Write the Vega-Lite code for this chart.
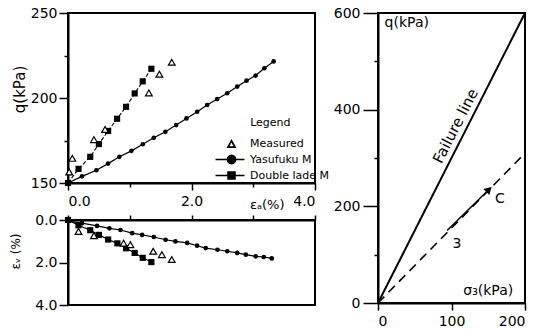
{
  "$schema": "https://vega.github.io/schema/vega-lite/v6.json",
  "padding": {"left": 8, "top": 5, "right": 0, "bottom": 0},
  "background": "white",
  "config": {
    "view": {"stroke": "black", "strokeWidth": 2},
    "axis": {
      "grid": false, "domainColor": "black", "domainWidth": 2, "tickColor": "black", "tickWidth": 1.5,
      "labelFont": "DejaVu Sans", "labelFontSize": 14, "labelColor": "black",
      "titleFont": "DejaVu Sans", "titleFontWeight": "normal", "titleColor": "black"
    },
    "text": {"font": "DejaVu Sans", "color": "black"}
  },
  "datasets": {
    "top": [
      {"model": "Yasufuku M", "ea": 0, "q": 150},
      {"model": "Yasufuku M", "ea": 0.227, "q": 153.9},
      {"model": "Yasufuku M", "ea": 0.459, "q": 157.5},
      {"model": "Yasufuku M", "ea": 0.649, "q": 161.4},
      {"model": "Yasufuku M", "ea": 0.832, "q": 165.4},
      {"model": "Yasufuku M", "ea": 1.027, "q": 168.9},
      {"model": "Yasufuku M", "ea": 1.211, "q": 172.8},
      {"model": "Yasufuku M", "ea": 1.389, "q": 176.6},
      {"model": "Yasufuku M", "ea": 1.578, "q": 180.1},
      {"model": "Yasufuku M", "ea": 1.751, "q": 184.1},
      {"model": "Yasufuku M", "ea": 1.919, "q": 188.0},
      {"model": "Yasufuku M", "ea": 2.092, "q": 191.9},
      {"model": "Yasufuku M", "ea": 2.254, "q": 195.9},
      {"model": "Yasufuku M", "ea": 2.416, "q": 199.4},
      {"model": "Yasufuku M", "ea": 2.578, "q": 202.8},
      {"model": "Yasufuku M", "ea": 2.741, "q": 206.7},
      {"model": "Yasufuku M", "ea": 2.892, "q": 210.2},
      {"model": "Yasufuku M", "ea": 3.038, "q": 213.2},
      {"model": "Yasufuku M", "ea": 3.18, "q": 217.5},
      {"model": "Yasufuku M", "ea": 3.33, "q": 221.5},
      {"model": "Double lade M", "ea": 0, "q": 150},
      {"model": "Double lade M", "ea": 0.17, "q": 158.3},
      {"model": "Double lade M", "ea": 0.36, "q": 165.4},
      {"model": "Double lade M", "ea": 0.5, "q": 172.9},
      {"model": "Double lade M", "ea": 0.65, "q": 180.6},
      {"model": "Double lade M", "ea": 0.795, "q": 187.8},
      {"model": "Double lade M", "ea": 0.94, "q": 194.8},
      {"model": "Double lade M", "ea": 1.08, "q": 202.7},
      {"model": "Double lade M", "ea": 1.21, "q": 209.8},
      {"model": "Double lade M", "ea": 1.35, "q": 217.2},
      {"model": "Measured", "ea": 0.02, "q": 156.5},
      {"model": "Measured", "ea": 0.07, "q": 164.5},
      {"model": "Measured", "ea": 0.42, "q": 175.5},
      {"model": "Measured", "ea": 0.6, "q": 181.5},
      {"model": "Measured", "ea": 1.31, "q": 203},
      {"model": "Measured", "ea": 1.48, "q": 214},
      {"model": "Measured", "ea": 1.68, "q": 221}
    ],
    "legendtitle": [
      {"ea": 2.95, "q": 185.3, "label": "Legend"}
    ],
    "bot": [
      {"model": "Yasufuku M", "ea": 0, "ev": 0.05},
      {"model": "Yasufuku M", "ea": 0.227, "ev": 0.15},
      {"model": "Yasufuku M", "ea": 0.47, "ev": 0.28},
      {"model": "Yasufuku M", "ea": 0.67, "ev": 0.39},
      {"model": "Yasufuku M", "ea": 0.85, "ev": 0.47},
      {"model": "Yasufuku M", "ea": 1.04, "ev": 0.62},
      {"model": "Yasufuku M", "ea": 1.2, "ev": 0.7},
      {"model": "Yasufuku M", "ea": 1.39, "ev": 0.8},
      {"model": "Yasufuku M", "ea": 1.58, "ev": 0.93},
      {"model": "Yasufuku M", "ea": 1.74, "ev": 1.01},
      {"model": "Yasufuku M", "ea": 1.93, "ev": 1.08},
      {"model": "Yasufuku M", "ea": 2.09, "ev": 1.21},
      {"model": "Yasufuku M", "ea": 2.23, "ev": 1.32},
      {"model": "Yasufuku M", "ea": 2.42, "ev": 1.4},
      {"model": "Yasufuku M", "ea": 2.58, "ev": 1.47},
      {"model": "Yasufuku M", "ea": 2.74, "ev": 1.55},
      {"model": "Yasufuku M", "ea": 2.88, "ev": 1.63},
      {"model": "Yasufuku M", "ea": 3.04, "ev": 1.71},
      {"model": "Yasufuku M", "ea": 3.17, "ev": 1.74},
      {"model": "Yasufuku M", "ea": 3.3, "ev": 1.81},
      {"model": "Double lade M", "ea": 0, "ev": 0},
      {"model": "Double lade M", "ea": 0.17, "ev": 0.25},
      {"model": "Double lade M", "ea": 0.36, "ev": 0.48},
      {"model": "Double lade M", "ea": 0.5, "ev": 0.7},
      {"model": "Double lade M", "ea": 0.65, "ev": 0.92},
      {"model": "Double lade M", "ea": 0.8, "ev": 1.1},
      {"model": "Double lade M", "ea": 0.94, "ev": 1.33},
      {"model": "Double lade M", "ea": 1.08, "ev": 1.55},
      {"model": "Double lade M", "ea": 1.21, "ev": 1.78},
      {"model": "Double lade M", "ea": 1.35, "ev": 1.98},
      {"model": "Measured", "ea": 0.17, "ev": 0.54},
      {"model": "Measured", "ea": 0.42, "ev": 0.74},
      {"model": "Measured", "ea": 0.9, "ev": 1.09},
      {"model": "Measured", "ea": 1.01, "ev": 1.16},
      {"model": "Measured", "ea": 1.38, "ev": 1.47},
      {"model": "Measured", "ea": 1.52, "ev": 1.63},
      {"model": "Measured", "ea": 1.68, "ev": 1.86}
    ],
    "env": [
      {"line": "failure", "s": 0, "q": 0},
      {"line": "failure", "s": 200, "q": 600},
      {"line": "path", "s": 0, "q": 0},
      {"line": "path", "s": 200, "q": 310}
    ],
    "arrow": [
      {"s": 94, "q": 150},
      {"s": 153, "q": 238}
    ],
    "head": [
      {"s": 151, "q": 235}
    ],
    "lblc": [
      {"s": 166, "q": 216, "label": "C"},
      {"s": 107.5, "q": 122, "label": "3"}
    ],
    "lbll": [
      {"s": 9, "q": 579, "label": "q(kPa)"}
    ],
    "lblr": [
      {"s": 184, "q": 25, "label": "σ₃(kPa)"}
    ],
    "lblf": [
      {"s": 118.7, "q": 356, "label": "Failure line"}
    ]
  },
  "bounds": "flush",
  "spacing": 310,
  "resolve": {"scale": {"shape": "independent"}, "legend": {"shape": "independent"}},
  "hconcat": [
    {
      "bounds": "flush",
      "spacing": 37,
      "resolve": {"scale": {"shape": "independent"}, "legend": {"shape": "independent"}},
      "vconcat": [
        {
          "width": 247,
          "height": 170,
          "encoding": {
            "x": {"field": "ea", "type": "quantitative",
              "scale": {"domain": [0, 4], "nice": false, "zero": false},
              "axis": {"values": [0, 1, 2, 3, 4], "format": ".1f", "labelExpr": "datum.value % 2 === 0 ? datum.label : ''",
                "tickSize": {"condition": {"test": "datum.value % 2 === 0", "value": 7}, "value": 4},
                "labelPadding": 4,
                "title": "εₐ(%)", "titleFontSize": 13, "titleX": 216, "titleY": 25, "titleAlign": "right", "titleBaseline": "alphabetic", "titleAngle": 0}},
            "y": {"field": "q", "type": "quantitative",
              "scale": {"domain": [150, 250], "nice": false, "zero": false},
              "axis": {"values": [150, 175, 200, 225, 250], "labelExpr": "datum.value % 50 === 0 ? datum.label : ''",
                "tickSize": {"condition": {"test": "datum.value % 50 === 0", "value": 9}, "value": 4},
                "labelPadding": 2, "title": "q(kPa)", "titleFontSize": 15, "titlePadding": 3, "titleY": 76}}
          },
          "layer": [
            {
              "data": {"name": "top"},
              "transform": [{"filter": "datum.model === 'Yasufuku M'"}],
              "mark": {"type": "line", "color": "black", "strokeWidth": 1.2}
            },
            {
              "data": {"name": "top"},
              "transform": [{"filter": "datum.model === 'Double lade M'"}],
              "mark": {"type": "line", "color": "black", "strokeWidth": 1.1, "strokeDash": [4, 2]}
            },
            {
              "data": {"name": "top"},
              "transform": [{"filter": "datum.model === 'Yasufuku M'"}],
              "mark": {"type": "point", "shape": "circle", "filled": true, "color": "black", "opacity": 1, "size": 22}
            },
            {
              "data": {"name": "top"},
              "transform": [{"filter": "datum.model === 'Double lade M'"}],
              "mark": {"type": "point", "shape": "square", "filled": true, "color": "black", "opacity": 1, "size": 38}
            },
            {
              "data": {"name": "top"},
              "transform": [{"filter": "datum.model === 'Measured'"}],
              "mark": {"type": "point", "shape": "triangle-up", "filled": true, "fill": "white", "stroke": "black", "strokeWidth": 1.2, "opacity": 1, "size": 45}
            },
            {
              "data": {"name": "top"},
              "mark": {"type": "point", "filled": true, "color": "black", "opacity": 0, "size": 1},
              "encoding": {
                "shape": {"field": "model", "type": "nominal",
                  "sort": ["Measured", "Yasufuku M", "Double lade M"],
                  "scale": {"domain": ["Measured", "Yasufuku M", "Double lade M"],
                    "range": [
                      "M-1,0.9L0,-0.9L1,0.9ZM-0.4,0.54L0.4,0.54L0,-0.18Z",
                      "M-3.2,-0.15H2.6V0.15H-3.2ZM1,0L0.866,0.5L0.5,0.866L0,1L-0.5,0.866L-0.866,0.5L-1,0L-0.866,-0.5L-0.5,-0.866L0,-1L0.5,-0.866L0.866,-0.5Z",
                      "M-3.2,-0.15H2.6V0.15H-3.2ZM-0.85,-0.85H0.85V0.85H-0.85Z"
                    ]},
                  "legend": {
                    "title": null, "orient": "none", "legendX": 158, "legendY": 125, "padding": 0,
                    "symbolSize": 100, "symbolStrokeWidth": 0, "symbolOpacity": 1, "symbolFillColor": "black",
                    "labelOffset": 13, "rowPadding": 4,
                    "labelFont": "DejaVu Sans", "labelFontSize": 11, "labelColor": "black"
                  }}
              }
            },
            {
              "data": {"name": "legendtitle"},
              "mark": {"type": "text", "fontSize": 11, "align": "left", "baseline": "middle"},
              "encoding": {"text": {"field": "label"}}
            }
          ]
        },
        {
          "width": 247,
          "height": 85,
          "data": {"name": "bot"},
          "encoding": {
            "x": {"field": "ea", "type": "quantitative",
              "scale": {"domain": [0, 4], "nice": false, "zero": false},
              "axis": {"orient": "top", "values": [0, 1, 2, 3, 4], "labels": false, "tickSize": 5, "title": null}},
            "y": {"field": "ev", "type": "quantitative",
              "scale": {"domain": [0, 4], "nice": false, "reverse": true},
              "axis": {"values": [0, 2, 4], "format": ".1f", "tickSize": 9, "labelPadding": 2,
                "title": "εᵥ (%)", "titleFontSize": 12, "titlePadding": 12, "titleY": 31}}
          },
          "layer": [
            {
              "transform": [{"filter": "datum.model !== 'Measured'"}],
              "mark": {"type": "line", "color": "black", "strokeWidth": 1.2},
              "encoding": {"detail": {"field": "model"}}
            },
            {
              "transform": [{"filter": "datum.model === 'Yasufuku M'"}],
              "mark": {"type": "point", "shape": "circle", "filled": true, "color": "black", "opacity": 1, "size": 22}
            },
            {
              "transform": [{"filter": "datum.model === 'Double lade M'"}],
              "mark": {"type": "point", "shape": "square", "filled": true, "color": "black", "opacity": 1, "size": 38}
            },
            {
              "transform": [{"filter": "datum.model === 'Measured'"}],
              "mark": {"type": "point", "shape": "triangle-up", "filled": true, "fill": "white", "stroke": "black", "strokeWidth": 1.2, "opacity": 1, "size": 45}
            }
          ]
        }
      ]
    },
    {
      "width": 147,
      "height": 290,
      "encoding": {
        "x": {"field": "s", "type": "quantitative",
          "scale": {"domain": [0, 200], "nice": false},
          "axis": {"values": [0, 100, 200], "tickSize": 7, "labelPadding": 4, "title": null}},
        "y": {"field": "q", "type": "quantitative",
          "scale": {"domain": [0, 600], "nice": false},
          "axis": {"values": [0, 100, 200, 300, 400, 500, 600], "labelExpr": "datum.value % 200 === 0 ? datum.label : ''",
            "tickSize": {"condition": {"test": "datum.value % 200 === 0", "value": 15}, "value": 4},
            "labelPadding": 3, "title": null}}
      },
      "layer": [
        {
          "data": {"name": "env"},
          "transform": [{"filter": "datum.line === 'failure'"}],
          "mark": {"type": "line", "color": "black", "strokeWidth": 2}
        },
        {
          "data": {"name": "env"},
          "transform": [{"filter": "datum.line === 'path'"}],
          "mark": {"type": "line", "color": "black", "strokeWidth": 1.6, "strokeDash": [9, 6]}
        },
        {
          "data": {"name": "arrow"},
          "mark": {"type": "line", "color": "black", "strokeWidth": 1.5}
        },
        {
          "data": {"name": "head"},
          "mark": {"type": "point", "shape": "triangle-up", "filled": true, "color": "black", "opacity": 1, "size": 70, "angle": 46}
        },
        {
          "data": {"name": "lblc"},
          "mark": {"type": "text", "fontSize": 14, "align": "center", "baseline": "middle"},
          "encoding": {"text": {"field": "label"}}
        },
        {
          "data": {"name": "lbll"},
          "mark": {"type": "text", "fontSize": 14, "align": "left", "baseline": "middle"},
          "encoding": {"text": {"field": "label"}}
        },
        {
          "data": {"name": "lblr"},
          "mark": {"type": "text", "fontSize": 14, "align": "right", "baseline": "middle"},
          "encoding": {"text": {"field": "label"}}
        },
        {
          "data": {"name": "lblf"},
          "mark": {"type": "text", "fontSize": 15, "align": "center", "baseline": "middle", "angle": -63, "dy": -11},
          "encoding": {"text": {"field": "label"}}
        }
      ]
    }
  ]
}
